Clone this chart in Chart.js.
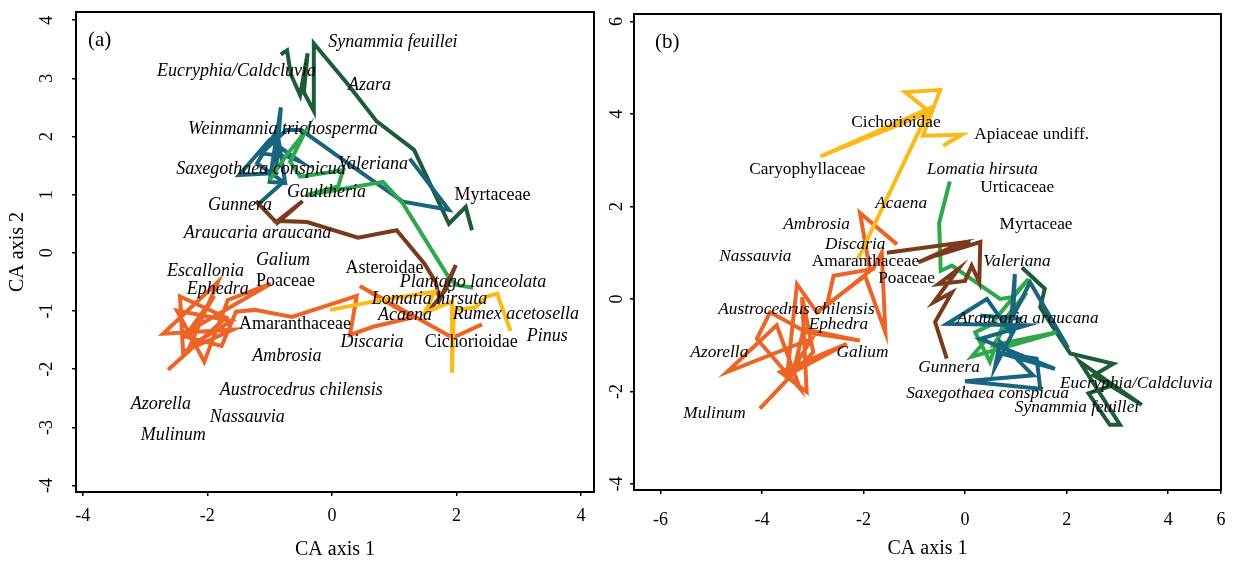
<!DOCTYPE html>
<html>
<head>
<meta charset="utf-8">
<script src="https://cdn.jsdelivr.net/npm/chart.js@4.4.1/dist/chart.umd.min.js"></script>
<style>
  html, body { margin: 0; padding: 0; background: #fff; }
  #wrap { position: relative; width: 1235px; height: 562px; }
  #chartA { position: absolute; left: 0; top: 0; }
  #chartB { position: absolute; left: 600px; top: 0; }
</style>
</head>
<body>
<div id="wrap">
  <canvas id="chartA" width="612" height="562"></canvas>
  <canvas id="chartB" width="635" height="562"></canvas>
</div>
<script>
// ---- panel (a) trajectories, CA axis 1 / CA axis 2 ----
const aDarkGreen = [[-0.82,3.41],[-0.72,3.48],[-0.66,3.07],[-0.51,2.71],[-0.39,3.43],[-0.45,2.76],[-0.29,2.44],[-0.29,3.60],[0.24,2.92],[0.72,2.26],[1.32,1.77],[1.88,0.50],[2.15,0.79],[2.25,0.39]];
const aTeal = [[-1.17,0.85],[-0.78,1.22],[-1.20,1.54],[-0.88,2.11],[-0.75,1.20],[-1.00,1.22],[-0.82,2.50],[-0.90,1.37],[-1.49,1.34],[-1.00,1.94],[-0.51,1.57],[-0.70,1.65],[-1.13,1.71],[-0.73,2.11],[-0.49,2.11],[0.18,1.60],[1.14,0.88],[1.88,0.74],[1.25,1.62]];
const aGreen = [[-1.00,1.25],[-0.75,1.65],[-0.43,2.08],[-0.67,1.57],[-0.51,1.31],[0.18,1.42],[0.10,1.14],[-0.41,0.99],[0.82,1.22],[1.14,0.85],[1.47,0.28],[1.87,-0.41],[2.00,-0.55],[2.27,-0.60]];
const aBrown = [[-1.22,0.89],[-0.88,0.51],[-0.47,0.89],[-0.87,0.55],[-0.40,0.53],[0.42,0.26],[1.04,0.39],[1.49,-0.19],[1.67,-0.51],[1.73,-0.81],[1.99,-0.21],[1.83,-0.63],[1.57,-0.98]];
const aYellow = [[-0.03,-0.98],[0.80,-0.81],[1.65,-0.67],[1.49,-1.03],[1.81,-0.89],[1.93,-0.84],[1.93,-2.06],[1.96,-0.98],[2.30,-0.94],[2.49,-0.75],[2.66,-0.70],[2.70,-0.84],[2.87,-1.34]];
const aOrange = [[-2.63,-2.01],[-1.70,-1.11],[-2.44,-0.75],[-2.39,-1.70],[-1.59,-1.32],[-2.71,-1.39],[-1.83,-0.50],[-2.28,-1.60],[-1.61,-1.17],[-2.49,-0.99],[-2.05,-1.87],[-1.67,-0.81],[-0.98,-0.53],[-2.18,-1.27],[-1.89,-0.74],[-2.36,-1.44],[-1.77,-1.60],[-1.54,-1.01],[-1.24,-0.98],[-0.64,-1.10],[0.40,-0.74],[0.29,-1.41],[0.66,-1.27],[1.30,-1.11],[0.45,-0.57],[1.94,-1.46],[2.41,-1.23]];

// [name, x, y, italic]
const aLabels = [
  ["Synammia feuillei", -0.06, 3.62, true],
  ["Eucryphia/Caldcluvia", -2.81, 3.12, true],
  ["Azara", 0.26, 2.88, true],
  ["Weinmannia trichosperma", -2.31, 2.13, true],
  ["Saxegothaea conspicua", -2.50, 1.44, true],
  ["Valeriana", 0.10, 1.53, true],
  ["Gaultheria", -0.72, 1.05, true],
  ["Myrtaceae", 1.97, 0.99, false],
  ["Gunnera", -1.99, 0.82, true],
  ["Araucaria araucana", -2.38, 0.34, true],
  ["Galium", -1.22, -0.12, true],
  ["Escallonia", -2.65, -0.31, true],
  ["Poaceae", -1.22, -0.48, false],
  ["Asteroidae", 0.22, -0.26, false],
  ["Plantago lanceolata", 1.09, -0.51, true],
  ["Ephedra", -2.33, -0.63, true],
  ["Lomatia hirsuta", 0.64, -0.79, true],
  ["Rumex acetosella", 1.94, -1.05, true],
  ["Amaranthaceae", -1.49, -1.23, false],
  ["Acaena", 0.74, -1.08, true],
  ["Discaria", 0.14, -1.53, true],
  ["Cichorioidae", 1.49, -1.53, false],
  ["Pinus", 3.13, -1.44, true],
  ["Ambrosia", -1.28, -1.78, true],
  ["Austrocedrus chilensis", -1.80, -2.37, true],
  ["Azorella", -3.23, -2.60, true],
  ["Nassauvia", -1.96, -2.83, true],
  ["Mulinum", -3.07, -3.14, true]
];
const aXTicks = [-4, -2, 0, 2, 4];
const aYTicks = [-4, -3, -2, -1, 0, 1, 2, 3, 4];

// ---- panel (b) ----
const bYellow = [[-2.11,0.86],[-0.69,4.13],[-2.85,3.08],[-0.69,4.04],[-1.18,4.47],[-0.49,4.52],[-0.83,3.53],[-0.06,3.55],[-0.43,3.31]];
const bGreen = [[-0.30,2.54],[-0.51,1.65],[-0.48,0.61],[-0.26,0.72],[0.69,0.00],[0.92,0.04],[1.25,0.43],[0.49,-0.57],[0.20,-0.72],[0.49,-1.36],[0.79,-0.43],[1.21,0.14],[0.56,-1.00],[1.81,-0.72],[0.13,-1.25],[0.43,-0.86]];
const bBrown = [[-1.54,1.00],[-0.06,1.22],[-0.92,0.79],[0.10,1.25],[-0.59,0.93],[0.30,1.23],[0.28,0.36],[0.13,0.72],[0.00,0.39],[-0.53,0.32],[-0.13,0.65],[-0.62,-0.07],[-0.26,0.14],[-0.59,-0.50],[-0.36,-1.29]];
const bTeal = [[2.03,-1.06],[1.28,0.36],[0.95,-0.36],[0.98,0.54],[0.89,-0.72],[0.43,0.00],[-0.36,-0.54],[1.21,-0.57],[0.30,-0.86],[1.77,-1.51],[0.62,-1.15],[1.41,-1.29],[1.48,-1.94],[0.00,-1.78],[1.34,-1.65],[0.69,-0.93],[0.59,-1.47],[1.08,-0.43],[0.30,-0.36]];
const bDarkGreen = [[1.12,0.68],[1.57,0.22],[1.48,-0.18],[2.07,-1.18],[2.92,-1.40],[2.53,-1.65],[3.48,-2.29],[2.26,-1.36],[3.05,-2.72],[2.85,-2.72],[2.43,-2.04],[2.92,-1.86]];
const bOrange = [[-1.34,1.18],[-2.07,1.86],[-1.87,0.61],[-2.72,-0.14],[-2.59,0.50],[-1.81,0.65],[-1.64,1.00],[-1.57,-0.72],[-1.97,0.50],[-2.92,-0.29],[-3.31,0.32],[-3.51,-1.72],[-3.02,-0.86],[-4.69,-1.58],[-3.71,-0.57],[-3.25,-1.94],[-4.10,-0.86],[-3.84,-0.29],[-3.12,-0.72],[-2.07,-0.90],[-3.18,-0.65],[-3.38,-1.58],[-2.33,-0.97],[-3.64,-1.58],[-3.12,-2.01],[-3.21,0.04],[-2.99,-1.15],[-4.04,-2.37]];

const bLabels = [
  ["Cichorioidae", -2.24, 3.81, false],
  ["Apiaceae undiff.", 0.18, 3.55, false],
  ["Caryophyllaceae", -4.25, 2.81, false],
  ["Lomatia hirsuta", -0.75, 2.80, true],
  ["Urticaceae", 0.30, 2.40, false],
  ["Acaena", -1.77, 2.06, true],
  ["Ambrosia", -3.58, 1.61, true],
  ["Myrtaceae", 0.68, 1.61, false],
  ["Discaria", -2.76, 1.18, true],
  ["Nassauvia", -4.84, 0.91, true],
  ["Amaranthaceae", -3.02, 0.80, false],
  ["Valeriana", 0.36, 0.81, true],
  ["Poaceae", -1.71, 0.45, false],
  ["Austrocedrus chilensis", -4.86, -0.22, true],
  ["Araucaria araucana", -0.16, -0.42, true],
  ["Ephedra", -3.08, -0.55, true],
  ["Azorella", -5.41, -1.15, true],
  ["Galium", -2.53, -1.15, true],
  ["Gunnera", -0.92, -1.49, true],
  ["Eucryphia/Caldcluvia", 1.87, -1.83, true],
  ["Saxegothaea conspicua", -1.16, -2.04, true],
  ["Synammia feuillei", 0.98, -2.35, true],
  ["Mulinum", -5.55, -2.47, true]
];
const bXTicks = [-6, -4, -2, 0, 2, 4];
const bYTicks = [-4, -2, 0, 2, 4, 6];

const C = {
  darkGreen: "#1e5c38",
  teal: "#19647e",
  green: "#2ea84a",
  brown: "#7b3a1c",
  orange: "#ec6426",
  yellow: "#fbba1a"
};

Chart.defaults.font.family = '"Liberation Serif", "DejaVu Serif", serif';
Chart.defaults.font.size = 18;
Chart.defaults.color = "#000";

const toXY = arr => arr.map(([x, y]) => ({x, y}));
const line = (pts, color) => ({
  data: toXY(pts),
  showLine: true,
  borderColor: color,
  borderWidth: 4,
  pointRadius: 0,
  tension: 0,
  borderJoinStyle: "miter",
  borderCapStyle: "butt"
});

const taxaPlugin = {
  id: "taxa",
  afterDatasetsDraw(chart, args, opts) {
    const {ctx, chartArea: a} = chart;
    const sx = chart.scales.x, sy = chart.scales.y;
    ctx.save();
    ctx.fillStyle = "#000";
    ctx.textAlign = "left";
    ctx.textBaseline = "middle";
    opts.labels.forEach(([t, vx, vy, it]) => {
      ctx.font = (it ? "italic " : "") + opts.size + 'px "Liberation Serif"';
      ctx.fillText(t, sx.getPixelForValue(vx), sy.getPixelForValue(vy));
    });
    ctx.font = '21px "Liberation Serif"';
    ctx.fillText(opts.panel, a.left + opts.panelDx, a.top + 28);
    ctx.strokeStyle = "#000";
    ctx.lineWidth = 2;
    ctx.strokeRect(a.left, a.top, a.right - a.left, a.bottom - a.top);
    ctx.restore();
  }
};

const noPad = s => { s.paddingTop = 0; s.paddingBottom = 0; s.paddingLeft = 0; s.paddingRight = 0; };

function makeChart(id, cfg) {
  return new Chart(document.getElementById(id), {
    type: "scatter",
    data: {datasets: cfg.datasets},
    options: {
      responsive: false,
      animation: false,
      layout: {padding: cfg.padding},
      plugins: {
        legend: {display: false},
        tooltip: {enabled: false},
        taxa: {labels: cfg.labels, panel: cfg.panel, panelDx: cfg.panelDx, size: cfg.textSize}
      },
      scales: {
        x: {
          type: "linear",
          min: cfg.xMin, max: cfg.xMax,
          afterBuildTicks: s => { s.ticks = cfg.xTicks.map(v => ({value: v})); },
          afterFit: s => { s.height = cfg.xAxisH; noPad(s); },
          ticks: {padding: cfg.xTickPad, callback: cfg.xLabel || (v => String(v)), maxRotation: 0, autoSkip: false},
          grid: {display: true, drawOnChartArea: false, drawTicks: true, tickLength: 4, color: "#000", lineWidth: 1.5},
          border: {display: true, color: "#000", width: 2},
          title: {display: true, text: "CA axis 1", font: {size: 20}, padding: {top: 0, bottom: cfg.xTitlePad}}
        },
        y: {
          type: "linear",
          min: cfg.yMin, max: cfg.yMax,
          afterBuildTicks: s => { s.ticks = cfg.yTicks.map(v => ({value: v})); },
          afterFit: s => { s.width = cfg.yAxisW; noPad(s); },
          ticks: {padding: cfg.yTickPad, minRotation: 90, maxRotation: 90, crossAlign: "center", autoSkip: false},
          grid: {display: true, drawOnChartArea: false, drawTicks: true, tickLength: 4, color: "#000", lineWidth: 1.5},
          border: {display: true, color: "#000", width: 2},
          title: {display: cfg.yTitle, text: "CA axis 2", font: {size: 20}, padding: {top: 6, bottom: 0}}
        }
      }
    },
    plugins: [taxaPlugin]
  });
}

makeChart("chartA", {
  datasets: [
    line(aYellow, C.yellow), line(aBrown, C.brown), line(aGreen, C.green),
    line(aTeal, C.teal), line(aDarkGreen, C.darkGreen), line(aOrange, C.orange)
  ],
  labels: aLabels, panel: "(a)", panelDx: 12, textSize: 18,
  padding: {left: 0, right: 18, top: 12, bottom: 0},
  xMin: -4.11, xMax: 4.21, yMin: -4.11, yMax: 4.14,
  xTicks: aXTicks, yTicks: aYTicks,
  xAxisH: 70, yAxisW: 76, xTickPad: 9, yTickPad: 17, xTitlePad: 0, yTitle: true
});

const bEdge = 5.04;
makeChart("chartB", {
  datasets: [
    line(bYellow, C.yellow), line(bBrown, C.brown), line(bTeal, C.teal),
    line(bGreen, C.green), line(bDarkGreen, C.darkGreen), line(bOrange, C.orange)
  ],
  labels: bLabels, panel: "(b)", panelDx: 21, textSize: 17.3,
  padding: {left: 0, right: 14, top: 14, bottom: 0},
  xMin: -6.52, xMax: bEdge, yMin: -4.13, yMax: 6.16,
  xTicks: bXTicks.concat([bEdge]), yTicks: bYTicks,
  xLabel: v => (v === bEdge ? "6" : String(v)),
  xAxisH: 72, yAxisW: 34, xTickPad: 15, yTickPad: 5, xTitlePad: 1, yTitle: false
});
</script>
</body>
</html>
